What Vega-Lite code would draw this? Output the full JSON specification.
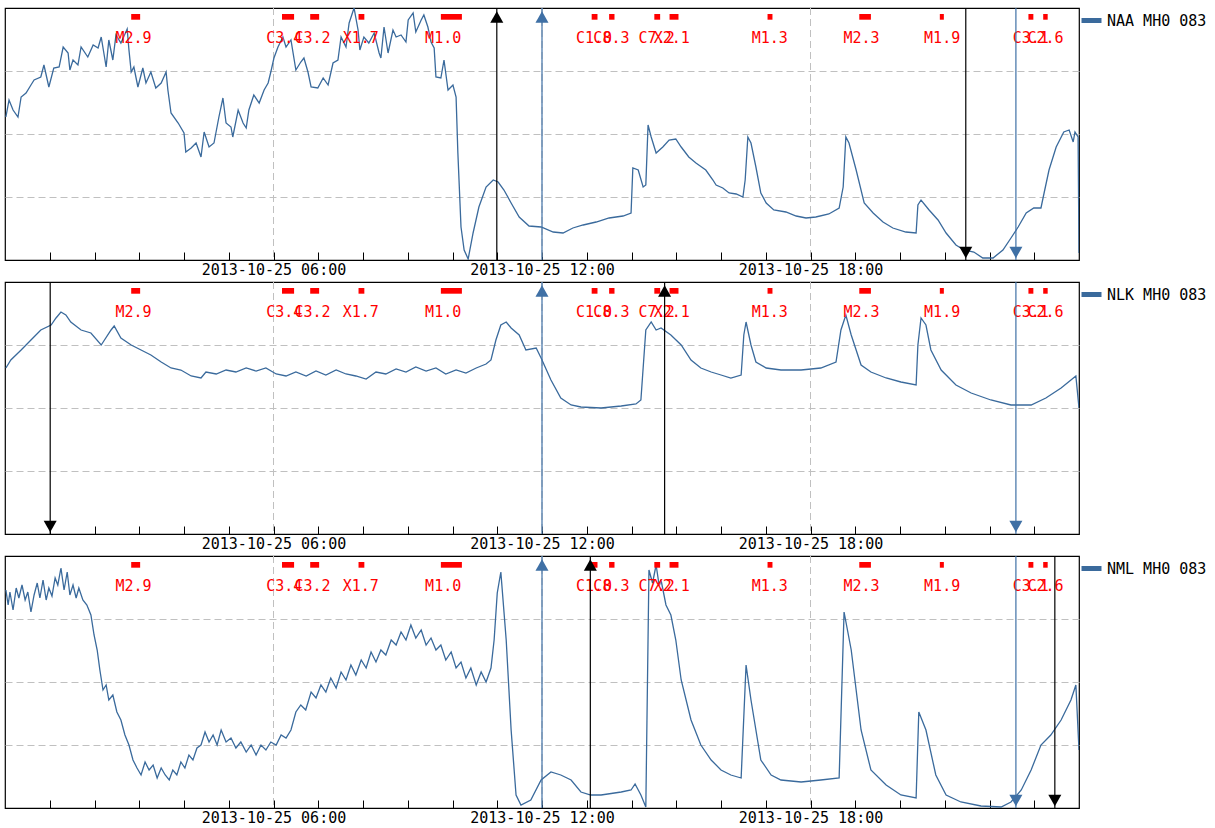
{
"$schema": "https://vega.github.io/schema/vega-lite/v6.json",
"background": "white",
"padding": {"left": 4, "top": 6, "right": 5, "bottom": 5},
"bounds": "flush",
"spacing": 22,
"config": {"view": {"stroke": "black", "strokeWidth": 1.2}, "font": "DejaVu Sans Mono"},
"resolve": {"scale": {"color": "independent", "y": "independent"}, "legend": {"color": "independent"}, "axis": {"x": "independent", "y": "independent"}},
"datasets": {
"grid": [{"h": 6}, {"h": 12}, {"h": 18}],
"flares": [
{"label": "M2.9", "start": 2.82, "end": 3.02},
{"label": "C3.4", "start": 6.19, "end": 6.46},
{"label": "C3.2", "start": 6.82, "end": 7.02},
{"label": "X1.7", "start": 7.90, "end": 8.03},
{"label": "M1.0", "start": 9.74, "end": 10.21},
{"label": "C1.0", "start": 13.11, "end": 13.24},
{"label": "C8.3", "start": 13.50, "end": 13.62},
{"label": "C7.2", "start": 14.51, "end": 14.64},
{"label": "X2.1", "start": 14.85, "end": 15.05},
{"label": "M1.3", "start": 17.04, "end": 17.15},
{"label": "M2.3", "start": 19.09, "end": 19.35},
{"label": "M1.9", "start": 20.89, "end": 20.98},
{"label": "C3.1", "start": 22.87, "end": 22.98},
{"label": "C2.6", "start": 23.20, "end": 23.30}
],
"events": [
{"station": "NAA", "site": "tx", "event": "sunrise", "h": 10.99},
{"station": "NAA", "site": "rx", "event": "sunrise", "h": 12.0},
{"station": "NAA", "site": "tx", "event": "sunset", "h": 21.47},
{"station": "NAA", "site": "rx", "event": "sunset", "h": 22.59},
{"station": "NLK", "site": "tx", "event": "sunset", "h": 1.01},
{"station": "NLK", "site": "rx", "event": "sunrise", "h": 12.0},
{"station": "NLK", "site": "tx", "event": "sunrise", "h": 14.74},
{"station": "NLK", "site": "rx", "event": "sunset", "h": 22.59},
{"station": "NML", "site": "rx", "event": "sunrise", "h": 12.0},
{"station": "NML", "site": "tx", "event": "sunrise", "h": 13.08},
{"station": "NML", "site": "rx", "event": "sunset", "h": 22.59},
{"station": "NML", "site": "tx", "event": "sunset", "h": 23.46}
],
"naa": [{"h":0.02,"v":143},{"h":0.09,"v":160},{"h":0.18,"v":150},{"h":0.29,"v":143},{"h":0.36,"v":163},{"h":0.47,"v":167},{"h":0.58,"v":175},{"h":0.65,"v":180},{"h":0.80,"v":183},{"h":0.87,"v":195},{"h":0.98,"v":173},{"h":1.09,"v":192},{"h":1.21,"v":193},{"h":1.30,"v":213},{"h":1.41,"v":207},{"h":1.45,"v":190},{"h":1.52,"v":200},{"h":1.63,"v":195},{"h":1.70,"v":213},{"h":1.85,"v":203},{"h":1.97,"v":215},{"h":2.08,"v":212},{"h":2.15,"v":223},{"h":2.26,"v":193},{"h":2.32,"v":220},{"h":2.41,"v":200},{"h":2.48,"v":225},{"h":2.59,"v":217},{"h":2.73,"v":231},{"h":2.77,"v":210},{"h":2.82,"v":188},{"h":2.88,"v":193},{"h":2.97,"v":173},{"h":3.08,"v":192},{"h":3.15,"v":177},{"h":3.26,"v":188},{"h":3.37,"v":172},{"h":3.49,"v":177},{"h":3.60,"v":188},{"h":3.64,"v":170},{"h":3.71,"v":147},{"h":3.87,"v":137},{"h":4.00,"v":127},{"h":4.04,"v":108},{"h":4.16,"v":112},{"h":4.27,"v":117},{"h":4.38,"v":103},{"h":4.45,"v":128},{"h":4.56,"v":113},{"h":4.67,"v":117},{"h":4.78,"v":143},{"h":4.87,"v":162},{"h":4.94,"v":137},{"h":5.05,"v":133},{"h":5.09,"v":123},{"h":5.21,"v":150},{"h":5.32,"v":137},{"h":5.39,"v":132},{"h":5.45,"v":150},{"h":5.56,"v":165},{"h":5.68,"v":157},{"h":5.79,"v":170},{"h":5.88,"v":177},{"h":5.94,"v":188},{"h":6.01,"v":202},{"h":6.10,"v":213},{"h":6.21,"v":223},{"h":6.28,"v":213},{"h":6.39,"v":220},{"h":6.50,"v":190},{"h":6.61,"v":198},{"h":6.68,"v":202},{"h":6.77,"v":188},{"h":6.84,"v":173},{"h":6.99,"v":172},{"h":7.11,"v":182},{"h":7.22,"v":175},{"h":7.33,"v":197},{"h":7.44,"v":200},{"h":7.51,"v":223},{"h":7.62,"v":213},{"h":7.69,"v":237},{"h":7.80,"v":252},{"h":7.89,"v":230},{"h":7.93,"v":210},{"h":8.02,"v":223},{"h":8.13,"v":217},{"h":8.25,"v":227},{"h":8.36,"v":207},{"h":8.40,"v":202},{"h":8.47,"v":233},{"h":8.56,"v":207},{"h":8.67,"v":230},{"h":8.74,"v":223},{"h":8.85,"v":225},{"h":8.96,"v":218},{"h":9.01,"v":240},{"h":9.12,"v":247},{"h":9.18,"v":228},{"h":9.30,"v":240},{"h":9.36,"v":245},{"h":9.45,"v":233},{"h":9.52,"v":218},{"h":9.59,"v":212},{"h":9.63,"v":183},{"h":9.74,"v":182},{"h":9.81,"v":200},{"h":9.90,"v":170},{"h":10.01,"v":175},{"h":10.08,"v":163},{"h":10.12,"v":107},{"h":10.19,"v":33},{"h":10.26,"v":10},{"h":10.35,"v":1},{"h":10.46,"v":27},{"h":10.59,"v":53},{"h":10.75,"v":73},{"h":10.91,"v":80},{"h":11.02,"v":78},{"h":11.15,"v":70},{"h":11.31,"v":57},{"h":11.49,"v":43},{"h":11.71,"v":34},{"h":11.98,"v":33},{"h":12.25,"v":28},{"h":12.47,"v":27},{"h":12.69,"v":32},{"h":12.92,"v":35},{"h":13.21,"v":38},{"h":13.50,"v":42},{"h":13.81,"v":44},{"h":13.99,"v":47},{"h":14.03,"v":92},{"h":14.15,"v":90},{"h":14.26,"v":73},{"h":14.32,"v":75},{"h":14.37,"v":135},{"h":14.44,"v":123},{"h":14.55,"v":107},{"h":14.70,"v":113},{"h":14.84,"v":120},{"h":14.99,"v":121},{"h":15.11,"v":113},{"h":15.28,"v":103},{"h":15.44,"v":97},{"h":15.66,"v":90},{"h":15.82,"v":80},{"h":15.89,"v":75},{"h":16.04,"v":72},{"h":16.18,"v":67},{"h":16.34,"v":66},{"h":16.49,"v":63},{"h":16.54,"v":80},{"h":16.60,"v":123},{"h":16.67,"v":117},{"h":16.78,"v":93},{"h":16.89,"v":67},{"h":17.01,"v":57},{"h":17.18,"v":50},{"h":17.45,"v":48},{"h":17.68,"v":44},{"h":17.90,"v":42},{"h":18.12,"v":43},{"h":18.41,"v":46},{"h":18.64,"v":52},{"h":18.73,"v":73},{"h":18.79,"v":123},{"h":18.86,"v":117},{"h":19.02,"v":90},{"h":19.20,"v":57},{"h":19.40,"v":47},{"h":19.62,"v":38},{"h":19.84,"v":32},{"h":20.13,"v":28},{"h":20.36,"v":27},{"h":20.40,"v":55},{"h":20.47,"v":60},{"h":20.65,"v":50},{"h":20.85,"v":40},{"h":21.03,"v":27},{"h":21.25,"v":15},{"h":21.43,"v":10},{"h":21.65,"v":8},{"h":21.85,"v":2},{"h":22.08,"v":2},{"h":22.30,"v":10},{"h":22.48,"v":22},{"h":22.64,"v":33},{"h":22.82,"v":47},{"h":22.99,"v":52},{"h":23.15,"v":52},{"h":23.22,"v":67},{"h":23.33,"v":90},{"h":23.49,"v":113},{"h":23.66,"v":128},{"h":23.78,"v":130},{"h":23.87,"v":118},{"h":23.91,"v":128},{"h":23.98,"v":123},{"h":24.00,"v":7}],
"nlk": [{"h":0.02,"v":166},{"h":0.13,"v":174},{"h":0.36,"v":184},{"h":0.58,"v":194},{"h":0.80,"v":204},{"h":1.03,"v":209},{"h":1.14,"v":216},{"h":1.25,"v":222},{"h":1.36,"v":219},{"h":1.47,"v":212},{"h":1.70,"v":204},{"h":1.92,"v":201},{"h":2.15,"v":189},{"h":2.37,"v":204},{"h":2.44,"v":208},{"h":2.59,"v":196},{"h":2.82,"v":189},{"h":3.04,"v":184},{"h":3.26,"v":179},{"h":3.49,"v":172},{"h":3.71,"v":166},{"h":3.93,"v":164},{"h":4.16,"v":158},{"h":4.38,"v":156},{"h":4.49,"v":162},{"h":4.72,"v":160},{"h":4.94,"v":164},{"h":5.16,"v":162},{"h":5.39,"v":166},{"h":5.61,"v":163},{"h":5.83,"v":166},{"h":6.06,"v":160},{"h":6.28,"v":158},{"h":6.50,"v":162},{"h":6.73,"v":158},{"h":6.95,"v":163},{"h":7.17,"v":159},{"h":7.40,"v":164},{"h":7.62,"v":160},{"h":7.84,"v":158},{"h":8.07,"v":155},{"h":8.29,"v":162},{"h":8.51,"v":160},{"h":8.74,"v":165},{"h":8.96,"v":162},{"h":9.18,"v":167},{"h":9.41,"v":163},{"h":9.63,"v":166},{"h":9.85,"v":160},{"h":10.08,"v":164},{"h":10.30,"v":161},{"h":10.53,"v":166},{"h":10.75,"v":170},{"h":10.86,"v":174},{"h":10.97,"v":194},{"h":11.08,"v":209},{"h":11.20,"v":212},{"h":11.31,"v":206},{"h":11.49,"v":199},{"h":11.64,"v":184},{"h":11.87,"v":186},{"h":11.98,"v":176},{"h":12.20,"v":154},{"h":12.42,"v":136},{"h":12.65,"v":129},{"h":12.87,"v":127},{"h":13.32,"v":126},{"h":13.77,"v":128},{"h":14.10,"v":130},{"h":14.21,"v":134},{"h":14.32,"v":204},{"h":14.44,"v":212},{"h":14.55,"v":204},{"h":14.66,"v":206},{"h":14.88,"v":199},{"h":15.11,"v":189},{"h":15.33,"v":174},{"h":15.55,"v":166},{"h":15.78,"v":162},{"h":16.00,"v":159},{"h":16.22,"v":156},{"h":16.45,"v":159},{"h":16.51,"v":199},{"h":16.56,"v":212},{"h":16.67,"v":189},{"h":16.78,"v":172},{"h":17.01,"v":166},{"h":17.34,"v":164},{"h":17.79,"v":164},{"h":18.23,"v":166},{"h":18.57,"v":172},{"h":18.68,"v":204},{"h":18.79,"v":219},{"h":18.91,"v":199},{"h":19.13,"v":169},{"h":19.35,"v":162},{"h":19.69,"v":156},{"h":20.02,"v":152},{"h":20.36,"v":149},{"h":20.40,"v":189},{"h":20.47,"v":216},{"h":20.58,"v":209},{"h":20.69,"v":184},{"h":20.92,"v":164},{"h":21.25,"v":149},{"h":21.59,"v":141},{"h":22.03,"v":134},{"h":22.48,"v":129},{"h":22.93,"v":129},{"h":23.26,"v":136},{"h":23.60,"v":146},{"h":23.82,"v":154},{"h":23.93,"v":158},{"h":24.00,"v":126}],
"nml": [{"h":0.02,"v":218},{"h":0.07,"v":203},{"h":0.11,"v":216},{"h":0.18,"v":198},{"h":0.25,"v":220},{"h":0.31,"v":210},{"h":0.38,"v":223},{"h":0.45,"v":208},{"h":0.51,"v":216},{"h":0.58,"v":196},{"h":0.65,"v":213},{"h":0.72,"v":225},{"h":0.78,"v":210},{"h":0.85,"v":228},{"h":0.92,"v":208},{"h":0.98,"v":220},{"h":1.05,"v":212},{"h":1.12,"v":230},{"h":1.18,"v":223},{"h":1.25,"v":240},{"h":1.32,"v":218},{"h":1.39,"v":236},{"h":1.45,"v":213},{"h":1.52,"v":223},{"h":1.59,"v":210},{"h":1.65,"v":220},{"h":1.74,"v":208},{"h":1.83,"v":203},{"h":1.92,"v":193},{"h":1.99,"v":173},{"h":2.06,"v":158},{"h":2.12,"v":138},{"h":2.19,"v":118},{"h":2.26,"v":123},{"h":2.32,"v":108},{"h":2.41,"v":113},{"h":2.50,"v":96},{"h":2.59,"v":88},{"h":2.68,"v":73},{"h":2.77,"v":63},{"h":2.86,"v":48},{"h":2.95,"v":40},{"h":3.04,"v":33},{"h":3.13,"v":46},{"h":3.22,"v":38},{"h":3.31,"v":43},{"h":3.40,"v":30},{"h":3.49,"v":40},{"h":3.58,"v":33},{"h":3.67,"v":28},{"h":3.75,"v":38},{"h":3.84,"v":33},{"h":3.93,"v":46},{"h":4.02,"v":40},{"h":4.11,"v":53},{"h":4.20,"v":48},{"h":4.29,"v":60},{"h":4.38,"v":63},{"h":4.47,"v":76},{"h":4.56,"v":66},{"h":4.65,"v":73},{"h":4.74,"v":63},{"h":4.83,"v":78},{"h":4.94,"v":66},{"h":5.05,"v":70},{"h":5.16,"v":60},{"h":5.27,"v":66},{"h":5.39,"v":56},{"h":5.50,"v":63},{"h":5.61,"v":53},{"h":5.72,"v":63},{"h":5.83,"v":58},{"h":5.94,"v":66},{"h":6.06,"v":63},{"h":6.17,"v":73},{"h":6.28,"v":70},{"h":6.39,"v":78},{"h":6.50,"v":96},{"h":6.61,"v":103},{"h":6.72,"v":98},{"h":6.84,"v":116},{"h":6.95,"v":110},{"h":7.06,"v":123},{"h":7.17,"v":116},{"h":7.28,"v":130},{"h":7.40,"v":120},{"h":7.51,"v":136},{"h":7.62,"v":128},{"h":7.73,"v":143},{"h":7.84,"v":133},{"h":7.96,"v":148},{"h":8.07,"v":140},{"h":8.18,"v":156},{"h":8.29,"v":146},{"h":8.40,"v":158},{"h":8.51,"v":153},{"h":8.63,"v":168},{"h":8.74,"v":163},{"h":8.85,"v":176},{"h":8.96,"v":168},{"h":9.07,"v":183},{"h":9.18,"v":170},{"h":9.30,"v":178},{"h":9.41,"v":163},{"h":9.52,"v":170},{"h":9.63,"v":158},{"h":9.74,"v":163},{"h":9.85,"v":148},{"h":9.97,"v":156},{"h":10.08,"v":140},{"h":10.19,"v":146},{"h":10.30,"v":130},{"h":10.41,"v":140},{"h":10.53,"v":123},{"h":10.64,"v":136},{"h":10.75,"v":126},{"h":10.86,"v":140},{"h":10.93,"v":168},{"h":11.00,"v":215},{"h":11.08,"v":236},{"h":11.20,"v":168},{"h":11.31,"v":78},{"h":11.42,"v":13},{"h":11.53,"v":3},{"h":11.75,"v":8},{"h":11.98,"v":28},{"h":12.20,"v":36},{"h":12.42,"v":33},{"h":12.65,"v":28},{"h":12.87,"v":16},{"h":13.09,"v":13},{"h":13.32,"v":13},{"h":13.77,"v":16},{"h":13.99,"v":18},{"h":14.08,"v":24},{"h":14.21,"v":13},{"h":14.32,"v":1},{"h":14.39,"v":238},{"h":14.47,"v":225},{"h":14.55,"v":243},{"h":14.62,"v":222},{"h":14.66,"v":228},{"h":14.77,"v":203},{"h":14.88,"v":193},{"h":14.99,"v":168},{"h":15.11,"v":128},{"h":15.33,"v":88},{"h":15.55,"v":63},{"h":15.78,"v":48},{"h":16.00,"v":38},{"h":16.22,"v":33},{"h":16.45,"v":30},{"h":16.56,"v":143},{"h":16.67,"v":108},{"h":16.89,"v":48},{"h":17.12,"v":33},{"h":17.34,"v":28},{"h":17.79,"v":26},{"h":18.23,"v":28},{"h":18.64,"v":30},{"h":18.75,"v":196},{"h":18.91,"v":158},{"h":19.13,"v":78},{"h":19.35,"v":38},{"h":19.69,"v":23},{"h":20.02,"v":13},{"h":20.36,"v":10},{"h":20.42,"v":96},{"h":20.58,"v":78},{"h":20.80,"v":33},{"h":21.03,"v":13},{"h":21.36,"v":6},{"h":21.81,"v":2},{"h":22.26,"v":1},{"h":22.48,"v":6},{"h":22.71,"v":18},{"h":22.93,"v":38},{"h":23.15,"v":63},{"h":23.37,"v":73},{"h":23.60,"v":88},{"h":23.82,"v":108},{"h":23.93,"v":123},{"h":24.00,"v":58}]
},
"vconcat": [
{
"width": 1074, "height": 252,
"layer": [
{"data": {"name": "grid"}, "mark": {"type": "rule", "color": "#c0c0c0", "strokeDash": [7, 4], "strokeWidth": 1},
 "encoding": {"x": {"field": "h", "type": "quantitative", "scale": {"domain": [0, 24], "nice": false, "zero": false},
  "axis": {"values": [1,2,3,4,5,6,7,8,9,10,11,12,13,14,15,16,17,18,19,20,21,22,23], "labelExpr": "datum.value % 6 == 0 ? '2013-10-25 ' + (datum.value < 10 ? '0' : '') + datum.value + ':00' : ''", "tickSize": -8, "tickColor": "black", "tickWidth": 1, "domain": false, "grid": false, "title": null, "labelFont": "DejaVu Sans Mono", "labelFontSize": 15, "labelColor": "black", "labelPadding": 10, "labelFlush": false, "labelOverlap": false}}}},
{"data": {"name": "naa"}, "mark": {"type": "line", "strokeWidth": 1.3, "clip": true},
 "encoding": {"x": {"field": "h", "type": "quantitative"},
  "y": {"field": "v", "type": "quantitative", "scale": {"domain": [0, 252], "nice": false, "zero": false},
   "axis": {"values": [63, 126, 189], "grid": true, "gridDash": [7, 4], "gridColor": "#c0c0c0", "labels": false, "ticks": false, "domain": false, "title": null}},
  "color": {"datum": "NAA MH0 083", "scale": {"range": ["#3a6a9c"]},
   "legend": {"orient": "right", "offset": 0, "padding": 0, "title": null, "symbolType": "stroke", "symbolStrokeWidth": 5, "symbolSize": 400, "labelFont": "DejaVu Sans Mono", "labelFontSize": 15, "labelColor": "black", "labelOffset": 3}}}},
{"data": {"name": "flares"}, "mark": {"type": "rect", "color": "#ff0000"},
 "encoding": {"x": {"field": "start", "type": "quantitative"}, "x2": {"field": "end"}, "y": {"datum": 240.3}, "y2": {"datum": 246}}},
{"data": {"name": "flares"}, "mark": {"type": "text", "color": "#ff0000", "font": "DejaVu Sans Mono", "fontSize": 15, "align": "center", "baseline": "alphabetic", "dx": 2.3},
 "encoding": {"x": {"field": "start", "type": "quantitative"}, "y": {"datum": 217.5}, "text": {"field": "label"}}},
{"data": {"name": "events"}, "transform": [{"filter": "datum.station == 'NAA' && datum.site == 'tx'"}], "mark": {"type": "rule", "color": "black", "strokeWidth": 1.2},
 "encoding": {"x": {"field": "h", "type": "quantitative"}}},
{"data": {"name": "events"}, "transform": [{"filter": "datum.station == 'NAA' && datum.site == 'rx'"}], "mark": {"type": "rule", "color": "#3f70a5", "strokeWidth": 1.2},
 "encoding": {"x": {"field": "h", "type": "quantitative"}}},
{"data": {"name": "events"}, "transform": [{"filter": "datum.station == 'NAA' && datum.site == 'tx' && datum.event == 'sunrise'"}], "mark": {"type": "point", "shape": "triangle-up", "filled": true, "size": 170, "color": "black", "opacity": 1},
 "encoding": {"x": {"field": "h", "type": "quantitative"}, "y": {"datum": 243}}},
{"data": {"name": "events"}, "transform": [{"filter": "datum.station == 'NAA' && datum.site == 'tx' && datum.event == 'sunset'"}], "mark": {"type": "point", "shape": "triangle-down", "filled": true, "size": 170, "color": "black", "opacity": 1},
 "encoding": {"x": {"field": "h", "type": "quantitative"}, "y": {"datum": 7.5}}},
{"data": {"name": "events"}, "transform": [{"filter": "datum.station == 'NAA' && datum.site == 'rx' && datum.event == 'sunrise'"}], "mark": {"type": "point", "shape": "triangle-up", "filled": true, "size": 170, "color": "#3f70a5", "opacity": 1},
 "encoding": {"x": {"field": "h", "type": "quantitative"}, "y": {"datum": 243}}},
{"data": {"name": "events"}, "transform": [{"filter": "datum.station == 'NAA' && datum.site == 'rx' && datum.event == 'sunset'"}], "mark": {"type": "point", "shape": "triangle-down", "filled": true, "size": 170, "color": "#3f70a5", "opacity": 1},
 "encoding": {"x": {"field": "h", "type": "quantitative"}, "y": {"datum": 7.5}}}
]
},
{
"width": 1074, "height": 252,
"layer": [
{"data": {"name": "grid"}, "mark": {"type": "rule", "color": "#c0c0c0", "strokeDash": [7, 4], "strokeWidth": 1},
 "encoding": {"x": {"field": "h", "type": "quantitative", "scale": {"domain": [0, 24], "nice": false, "zero": false},
  "axis": {"values": [1,2,3,4,5,6,7,8,9,10,11,12,13,14,15,16,17,18,19,20,21,22,23], "labelExpr": "datum.value % 6 == 0 ? '2013-10-25 ' + (datum.value < 10 ? '0' : '') + datum.value + ':00' : ''", "tickSize": -8, "tickColor": "black", "tickWidth": 1, "domain": false, "grid": false, "title": null, "labelFont": "DejaVu Sans Mono", "labelFontSize": 15, "labelColor": "black", "labelPadding": 10, "labelFlush": false, "labelOverlap": false}}}},
{"data": {"name": "nlk"}, "mark": {"type": "line", "strokeWidth": 1.3, "clip": true},
 "encoding": {"x": {"field": "h", "type": "quantitative"},
  "y": {"field": "v", "type": "quantitative", "scale": {"domain": [0, 252], "nice": false, "zero": false},
   "axis": {"values": [63, 126, 189], "grid": true, "gridDash": [7, 4], "gridColor": "#c0c0c0", "labels": false, "ticks": false, "domain": false, "title": null}},
  "color": {"datum": "NLK MH0 083", "scale": {"range": ["#3a6a9c"]},
   "legend": {"orient": "right", "offset": 0, "padding": 0, "title": null, "symbolType": "stroke", "symbolStrokeWidth": 5, "symbolSize": 400, "labelFont": "DejaVu Sans Mono", "labelFontSize": 15, "labelColor": "black", "labelOffset": 3}}}},
{"data": {"name": "flares"}, "mark": {"type": "rect", "color": "#ff0000"},
 "encoding": {"x": {"field": "start", "type": "quantitative"}, "x2": {"field": "end"}, "y": {"datum": 240.3}, "y2": {"datum": 246}}},
{"data": {"name": "flares"}, "mark": {"type": "text", "color": "#ff0000", "font": "DejaVu Sans Mono", "fontSize": 15, "align": "center", "baseline": "alphabetic", "dx": 2.3},
 "encoding": {"x": {"field": "start", "type": "quantitative"}, "y": {"datum": 217.5}, "text": {"field": "label"}}},
{"data": {"name": "events"}, "transform": [{"filter": "datum.station == 'NLK' && datum.site == 'tx'"}], "mark": {"type": "rule", "color": "black", "strokeWidth": 1.2},
 "encoding": {"x": {"field": "h", "type": "quantitative"}}},
{"data": {"name": "events"}, "transform": [{"filter": "datum.station == 'NLK' && datum.site == 'rx'"}], "mark": {"type": "rule", "color": "#3f70a5", "strokeWidth": 1.2},
 "encoding": {"x": {"field": "h", "type": "quantitative"}}},
{"data": {"name": "events"}, "transform": [{"filter": "datum.station == 'NLK' && datum.site == 'tx' && datum.event == 'sunrise'"}], "mark": {"type": "point", "shape": "triangle-up", "filled": true, "size": 170, "color": "black", "opacity": 1},
 "encoding": {"x": {"field": "h", "type": "quantitative"}, "y": {"datum": 243}}},
{"data": {"name": "events"}, "transform": [{"filter": "datum.station == 'NLK' && datum.site == 'tx' && datum.event == 'sunset'"}], "mark": {"type": "point", "shape": "triangle-down", "filled": true, "size": 170, "color": "black", "opacity": 1},
 "encoding": {"x": {"field": "h", "type": "quantitative"}, "y": {"datum": 7.5}}},
{"data": {"name": "events"}, "transform": [{"filter": "datum.station == 'NLK' && datum.site == 'rx' && datum.event == 'sunrise'"}], "mark": {"type": "point", "shape": "triangle-up", "filled": true, "size": 170, "color": "#3f70a5", "opacity": 1},
 "encoding": {"x": {"field": "h", "type": "quantitative"}, "y": {"datum": 243}}},
{"data": {"name": "events"}, "transform": [{"filter": "datum.station == 'NLK' && datum.site == 'rx' && datum.event == 'sunset'"}], "mark": {"type": "point", "shape": "triangle-down", "filled": true, "size": 170, "color": "#3f70a5", "opacity": 1},
 "encoding": {"x": {"field": "h", "type": "quantitative"}, "y": {"datum": 7.5}}}
]
},
{
"width": 1074, "height": 252,
"layer": [
{"data": {"name": "grid"}, "mark": {"type": "rule", "color": "#c0c0c0", "strokeDash": [7, 4], "strokeWidth": 1},
 "encoding": {"x": {"field": "h", "type": "quantitative", "scale": {"domain": [0, 24], "nice": false, "zero": false},
  "axis": {"values": [1,2,3,4,5,6,7,8,9,10,11,12,13,14,15,16,17,18,19,20,21,22,23], "labelExpr": "datum.value % 6 == 0 ? '2013-10-25 ' + (datum.value < 10 ? '0' : '') + datum.value + ':00' : ''", "tickSize": -8, "tickColor": "black", "tickWidth": 1, "domain": false, "grid": false, "title": null, "labelFont": "DejaVu Sans Mono", "labelFontSize": 15, "labelColor": "black", "labelPadding": 10, "labelFlush": false, "labelOverlap": false}}}},
{"data": {"name": "nml"}, "mark": {"type": "line", "strokeWidth": 1.3, "clip": true},
 "encoding": {"x": {"field": "h", "type": "quantitative"},
  "y": {"field": "v", "type": "quantitative", "scale": {"domain": [0, 252], "nice": false, "zero": false},
   "axis": {"values": [63, 126, 189], "grid": true, "gridDash": [7, 4], "gridColor": "#c0c0c0", "labels": false, "ticks": false, "domain": false, "title": null}},
  "color": {"datum": "NML MH0 083", "scale": {"range": ["#3a6a9c"]},
   "legend": {"orient": "right", "offset": 0, "padding": 0, "title": null, "symbolType": "stroke", "symbolStrokeWidth": 5, "symbolSize": 400, "labelFont": "DejaVu Sans Mono", "labelFontSize": 15, "labelColor": "black", "labelOffset": 3}}}},
{"data": {"name": "flares"}, "mark": {"type": "rect", "color": "#ff0000"},
 "encoding": {"x": {"field": "start", "type": "quantitative"}, "x2": {"field": "end"}, "y": {"datum": 240.3}, "y2": {"datum": 246}}},
{"data": {"name": "flares"}, "mark": {"type": "text", "color": "#ff0000", "font": "DejaVu Sans Mono", "fontSize": 15, "align": "center", "baseline": "alphabetic", "dx": 2.3},
 "encoding": {"x": {"field": "start", "type": "quantitative"}, "y": {"datum": 217.5}, "text": {"field": "label"}}},
{"data": {"name": "events"}, "transform": [{"filter": "datum.station == 'NML' && datum.site == 'tx'"}], "mark": {"type": "rule", "color": "black", "strokeWidth": 1.2},
 "encoding": {"x": {"field": "h", "type": "quantitative"}}},
{"data": {"name": "events"}, "transform": [{"filter": "datum.station == 'NML' && datum.site == 'rx'"}], "mark": {"type": "rule", "color": "#3f70a5", "strokeWidth": 1.2},
 "encoding": {"x": {"field": "h", "type": "quantitative"}}},
{"data": {"name": "events"}, "transform": [{"filter": "datum.station == 'NML' && datum.site == 'tx' && datum.event == 'sunrise'"}], "mark": {"type": "point", "shape": "triangle-up", "filled": true, "size": 170, "color": "black", "opacity": 1},
 "encoding": {"x": {"field": "h", "type": "quantitative"}, "y": {"datum": 243}}},
{"data": {"name": "events"}, "transform": [{"filter": "datum.station == 'NML' && datum.site == 'tx' && datum.event == 'sunset'"}], "mark": {"type": "point", "shape": "triangle-down", "filled": true, "size": 170, "color": "black", "opacity": 1},
 "encoding": {"x": {"field": "h", "type": "quantitative"}, "y": {"datum": 7.5}}},
{"data": {"name": "events"}, "transform": [{"filter": "datum.station == 'NML' && datum.site == 'rx' && datum.event == 'sunrise'"}], "mark": {"type": "point", "shape": "triangle-up", "filled": true, "size": 170, "color": "#3f70a5", "opacity": 1},
 "encoding": {"x": {"field": "h", "type": "quantitative"}, "y": {"datum": 243}}},
{"data": {"name": "events"}, "transform": [{"filter": "datum.station == 'NML' && datum.site == 'rx' && datum.event == 'sunset'"}], "mark": {"type": "point", "shape": "triangle-down", "filled": true, "size": 170, "color": "#3f70a5", "opacity": 1},
 "encoding": {"x": {"field": "h", "type": "quantitative"}, "y": {"datum": 7.5}}}
]
}
]
}
